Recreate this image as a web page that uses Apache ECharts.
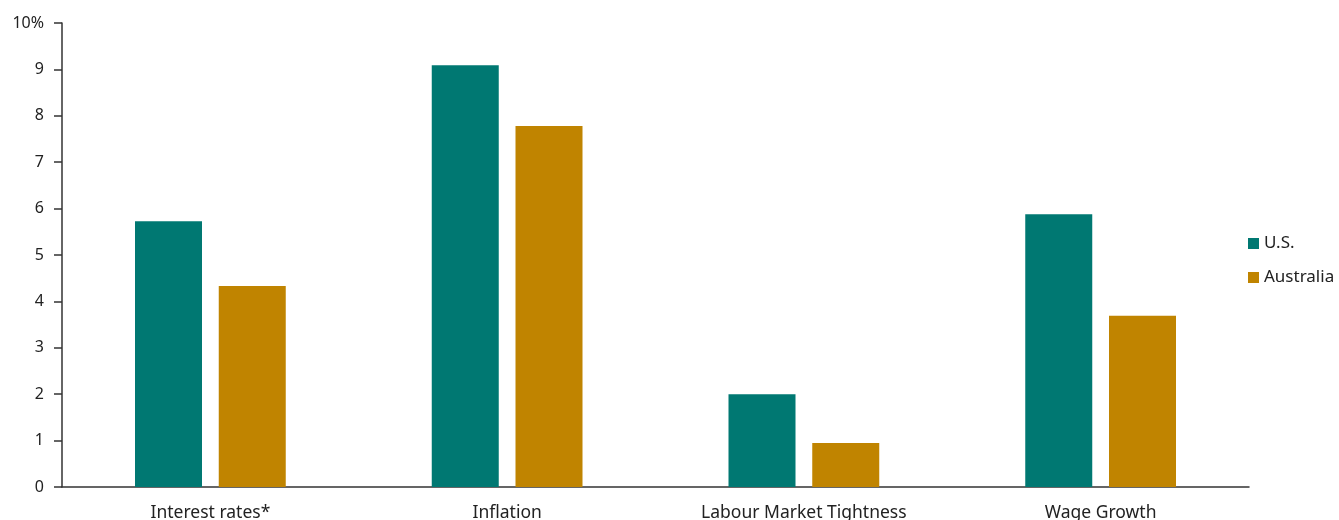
<!DOCTYPE html>
<html>
<head>
<meta charset="utf-8">
<script src="https://cdn.jsdelivr.net/npm/echarts@6/dist/echarts.min.js"></script>
<style>
html,body{margin:0;padding:0;background:#fff;}
#chart{width:1339px;height:520px;}
</style>
</head>
<body>
<div id="chart"></div>
<script>
const categories = ["Interest rates*", "Inflation", "Labour Market Tightness", "Wage Growth"];
const usValues = [5.73, 9.09, 2.0, 5.88];
const australiaValues = [4.33, 7.78, 0.95, 3.69];
const seriesNames = ["U.S.", "Australia"];

const FONT = "'Noto Sans', sans-serif";
const chart = echarts.init(document.getElementById('chart'));
chart.setOption({
  animation: false,
  textStyle: { fontFamily: FONT },
  grid: { left: 62, right: 90, top: 23, bottom: 33, containLabel: false, outerBoundsMode: 'none' },
  legend: {
    orient: 'vertical',
    left: 1248,
    top: 235,
    padding: 0,
    itemWidth: 11,
    itemHeight: 11,
    itemGap: 17,
    icon: 'rect',
    textStyle: { fontSize: 17, color: '#222', fontFamily: FONT },
    data: seriesNames
  },
  xAxis: {
    type: 'category',
    data: categories,
    axisLine: { lineStyle: { color: '#333', width: 1.5 } },
    axisTick: { show: false },
    axisLabel: { color: '#222', fontSize: 17.5, margin: 17, fontFamily: FONT }
  },
  yAxis: {
    type: 'value',
    min: 0, max: 10, interval: 1,
    axisLine: { show: true, lineStyle: { color: '#333', width: 1.5 } },
    axisTick: { show: true, length: 8, lineStyle: { color: '#333', width: 1.5 } },
    splitLine: { show: false },
    axisLabel: {
      color: '#222', fontSize: 16, margin: 18, fontFamily: FONT,
      formatter: v => v === 10 ? '10%' : String(v)
    }
  },
  series: [
    { name: seriesNames[0], type: 'bar', data: usValues, barWidth: 67, barGap: '25%', itemStyle: { color: '#007872' } },
    { name: seriesNames[1], type: 'bar', data: australiaValues, barWidth: 67, barGap: '25%', itemStyle: { color: '#C08400' } }
  ]
});
</script>
</body>
</html>
